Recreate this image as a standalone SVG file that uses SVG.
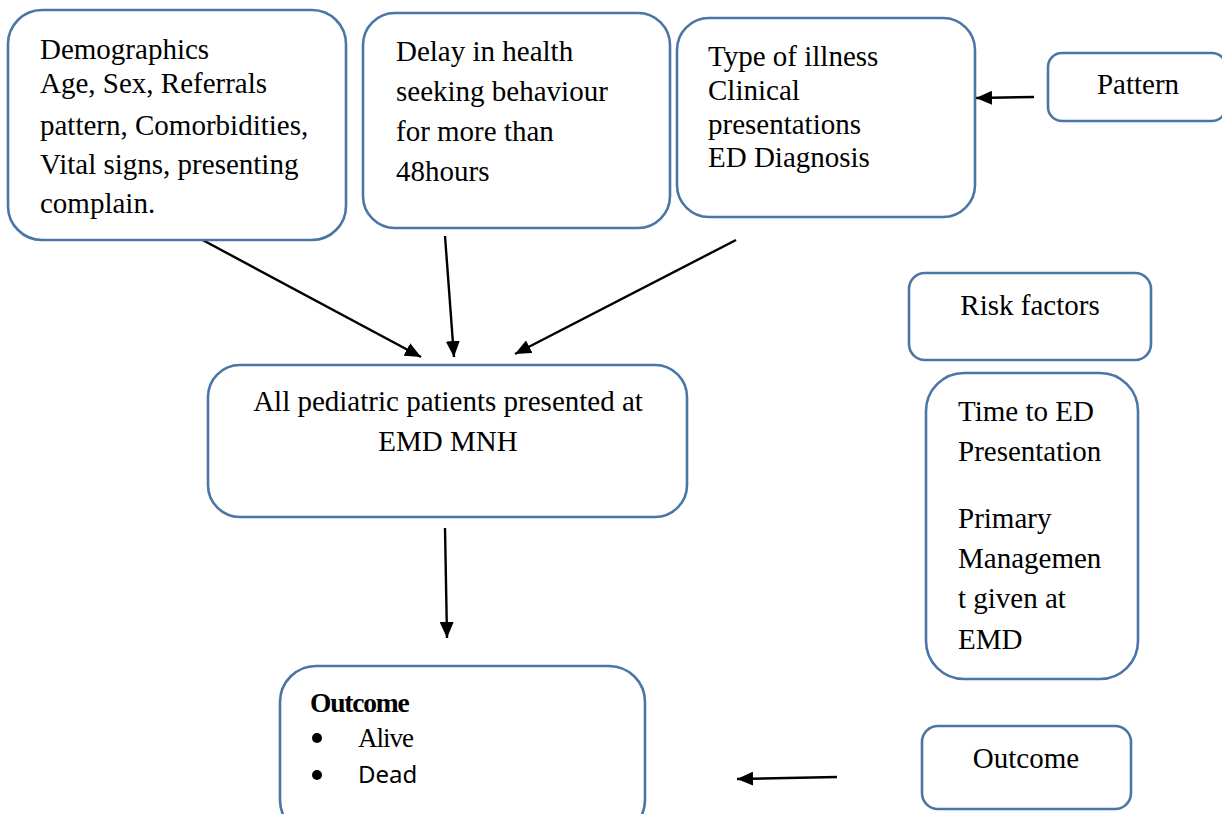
<svg xmlns="http://www.w3.org/2000/svg" width="1222" height="814" viewBox="0 0 1222 814">
<style>
.box{fill:#ffffff;stroke:#4a76a6;stroke-width:2.6}
.t{font-family:"Liberation Serif","Times New Roman",serif;font-size:29px;fill:#000}
.c{text-anchor:middle}
.edge{stroke:#000;stroke-width:2.4;fill:none;marker-end:url(#ah)}
</style>
<defs>
<marker id="ah" markerUnits="userSpaceOnUse" markerWidth="16" markerHeight="14" refX="16" refY="7" orient="auto">
<path d="M0,0 L16,7 L0,14 z" fill="#000"/>
</marker>
</defs>
<rect width="1222" height="814" fill="#ffffff"/>

<g id="connectors">
<line class="edge" x1="197" y1="237" x2="421" y2="357"/>
<line class="edge" x1="445" y1="236" x2="454" y2="357"/>
<line class="edge" x1="736" y1="240" x2="515" y2="354"/>
<line class="edge" x1="1034" y1="97" x2="976" y2="98"/>
<line class="edge" x1="445" y1="528" x2="447" y2="638"/>
<line class="edge" x1="837" y1="777" x2="737" y2="779"/>
</g>

<g id="demographics">
<rect class="box" x="8" y="10" width="338" height="230" rx="34"/>
<text class="t" x="40" y="59">Demographics</text>
<text class="t" x="40" y="93">Age, Sex, Referrals</text>
<text class="t" x="40" y="135">pattern, Comorbidities,</text>
<text class="t" x="40" y="174">Vital signs, presenting</text>
<text class="t" x="40" y="213">complain.</text>
</g>

<g id="delay">
<rect class="box" x="363" y="13" width="307" height="215" rx="32"/>
<text class="t" x="396" y="61">Delay in health</text>
<text class="t" x="396" y="101">seeking behaviour</text>
<text class="t" x="396" y="141">for more than</text>
<text class="t" x="396" y="181">48hours</text>
</g>

<g id="illness">
<rect class="box" x="677" y="18" width="298" height="199" rx="32"/>
<text class="t" x="708" y="66">Type of illness</text>
<text class="t" x="708" y="100">Clinical</text>
<text class="t" x="708" y="134">presentations</text>
<text class="t" x="708" y="167">ED Diagnosis</text>
</g>

<g id="pattern">
<rect class="box" x="1048" y="53" width="178" height="68" rx="14"/>
<text class="t c" x="1138" y="94">Pattern</text>
</g>

<g id="risk">
<rect class="box" x="909" y="273" width="242" height="87" rx="16"/>
<text class="t c" x="1030" y="315">Risk factors</text>
</g>

<g id="time">
<rect class="box" x="926" y="373" width="212" height="306" rx="38"/>
<text class="t" x="958" y="421">Time to ED</text>
<text class="t" x="958" y="461">Presentation</text>
<text class="t" x="958" y="528">Primary</text>
<text class="t" x="958" y="568">Managemen</text>
<text class="t" x="958" y="608">t given at</text>
<text class="t" x="958" y="649">EMD</text>
</g>

<g id="patients">
<rect class="box" x="208" y="365" width="479" height="152" rx="32"/>
<text class="t c" x="448" y="411">All pediatric patients presented at</text>
<text class="t c" x="448" y="451">EMD MNH</text>
</g>

<g id="outcome-main">
<rect class="box" x="280" y="666" width="365" height="170" rx="36"/>
<text x="310" y="712" font-family="Liberation Serif, serif" font-size="27.5" font-weight="bold" letter-spacing="-1.2">Outcome</text>
<circle cx="317" cy="738" r="5" fill="#000"/>
<circle cx="317" cy="775" r="5" fill="#000"/>
<text x="358" y="747" font-family="Liberation Serif, serif" font-size="27" letter-spacing="-1">Alive</text>
<text x="358" y="783" font-family="Noto Sans, sans-serif" font-size="24">Dead</text>
</g>

<g id="outcome-label">
<rect class="box" x="922" y="726" width="209" height="83" rx="16"/>
<text class="t c" x="1026" y="768">Outcome</text>
</g>
</svg>
